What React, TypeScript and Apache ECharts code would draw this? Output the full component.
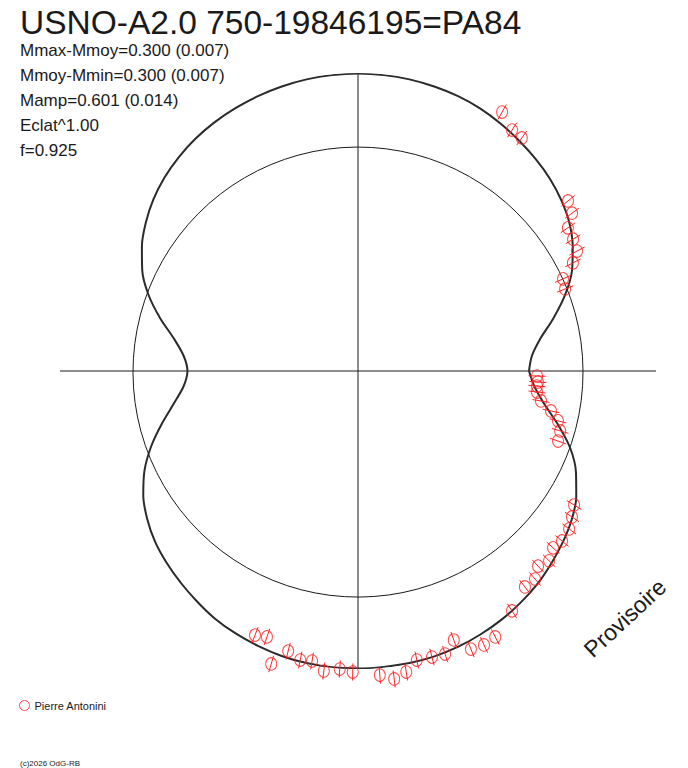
import React, { useEffect, useRef } from "react";
import * as echarts from "echarts";

const titleText = "USNO-A2.0 750-19846195=PA84";
const infoLines = [
  "Mmax-Mmoy=0.300 (0.007)",
  "Mmoy-Mmin=0.300 (0.007)",
  "Mamp=0.601 (0.014)",
  "Eclat^1.00",
  "f=0.925",
];
const observerName = "Pierre Antonini";
const watermark = "Provisoire";
const copyright = "(c)2026 OdG-RB";

// model light curve: phase angle (deg) and relative brightness (1 = mean)
const modelAngles = [
  0, 5, 10, 15, 20, 25, 30, 35, 40, 45, 50, 55, 60, 65, 70, 75, 80, 85, 90,
  95, 100, 105, 110, 115, 120, 125, 130, 135, 140, 145, 150, 155, 160, 165, 170, 175, 180,
  185, 190, 195, 200, 205, 210, 215, 220, 225, 230, 235, 240, 245, 250, 255, 260, 265, 270,
  275, 280, 285, 290, 295, 300, 305, 310, 315, 320, 325, 330, 335, 340, 345, 350, 355, 360,
];
const modelRadius = [
  0.76, 0.776, 0.822, 0.898, 0.978, 1.049, 1.102, 1.147, 1.18, 1.207, 1.229,
  1.249, 1.269, 1.287, 1.3, 1.309, 1.316, 1.32, 1.322,
  1.32, 1.316, 1.309, 1.3, 1.289, 1.276, 1.26, 1.24, 1.216, 1.187, 1.151, 1.109,
  1.058, 0.991, 0.911, 0.831, 0.778, 0.758,
  0.778, 0.831, 0.902, 0.978, 1.047, 1.102, 1.144, 1.178, 1.204, 1.227, 1.249,
  1.271, 1.287, 1.3, 1.311, 1.318, 1.322, 1.322,
  1.32, 1.318, 1.313, 1.304, 1.291, 1.276, 1.258, 1.238, 1.213, 1.187, 1.158,
  1.12, 1.069, 1.004, 0.92, 0.84, 0.787, 0.76,
];

// observations (Pierre Antonini)
const obsAngles = [
  248.7, 251.1, 256.0, 253.5, 258.7, 261.0, 263.5, 266.5, 269.0, 274.1, 276.7,
  279.1, 281.5, 284.5, 287.1, 289.6, 292.1, 294.7, 297.3, 302.7, 307.7, 310.4,
  312.7, 315.2, 317.8, 320.2, 323.2, 325.7, 328.2, 340.7, 343.5, 346.0, 348.3,
  350.7, 353.3, 355.2, 356.5, 358.4, 21.6, 24.2, 26.7, 28.7, 31.5, 34.3, 36.4,
  39.0, 54.9, 57.4, 60.9,
];
const obsRadius = [
  1.26, 1.249, 1.283, 1.358, 1.31, 1.305, 1.342, 1.327, 1.338, 1.355, 1.378,
  1.355, 1.311, 1.313, 1.316, 1.269, 1.334, 1.34, 1.33, 1.267, 1.213, 1.214,
  1.18, 1.197, 1.17, 1.18, 1.172, 1.151, 1.13, 0.942, 0.937, 0.916, 0.876,
  0.824, 0.801, 0.798, 0.801, 0.796, 0.99, 0.999, 1.069, 1.11, 1.121, 1.129,
  1.182, 1.201, 1.266, 1.271, 1.317,
];
const obsErrors = obsRadius.map(() => 0.038);

const meanLevel = 1;
const outerLevel = 1.3244;

const FONT = "'Liberation Sans', Arial, Helvetica, sans-serif";
const RED = "#ff2020";
const INK = "#1a1a1a";

export default function App() {
  const ref = useRef<HTMLDivElement>(null);

  useEffect(() => {
    if (!ref.current) return;
    const chart = echarts.init(ref.current, undefined, { renderer: "svg" });

    const texts: any[] = [
      {
        type: "text",
        x: 20,
        y: 22,
        style: { text: titleText, fontSize: 33.5, fontFamily: FONT, fill: INK, verticalAlign: "middle" },
      },
      ...infoLines.map((t, i) => ({
        type: "text",
        x: 20,
        y: 50 + 25.2 * i,
        style: { text: t, fontSize: 17, fontFamily: FONT, fill: INK, verticalAlign: "middle" },
      })),
      {
        type: "text",
        x: 625,
        y: 618,
        rotation: (43 * Math.PI) / 180,
        style: {
          text: watermark,
          fontSize: 23,
          fontFamily: FONT,
          fill: INK,
          align: "center",
          verticalAlign: "middle",
        },
      },
      {
        type: "text",
        x: 20,
        y: 763,
        style: { text: copyright, fontSize: 8, fontFamily: FONT, fill: INK, verticalAlign: "middle" },
      },
    ];

    chart.setOption({
      animation: false,
      polar: { center: [358, 371], radius: 298 },
      angleAxis: {
        type: "value",
        min: 0,
        max: 360,
        interval: 90,
        startAngle: 0,
        clockwise: false,
        axisLine: { show: false },
        axisTick: { show: false },
        axisLabel: { show: false },
        splitLine: { show: true, lineStyle: { color: INK, width: 1 } },
      },
      radiusAxis: {
        type: "value",
        min: 0,
        max: outerLevel,
        interval: meanLevel,
        axisLine: { show: false },
        axisTick: { show: false },
        axisLabel: { show: false },
        splitLine: {
          show: true,
          lineStyle: { color: ["rgba(0,0,0,0)", INK, "rgba(0,0,0,0)"], width: 1 },
        },
      },
      legend: {
        data: [observerName],
        left: 19,
        top: 700,
        padding: 0,
        itemWidth: 10,
        itemHeight: 10,
        icon: "circle",
        itemStyle: { color: "rgba(0,0,0,0)", borderColor: RED, borderWidth: 1 },
        textStyle: { fontSize: 11, fontFamily: FONT, color: INK },
      },
      series: [
        {
          type: "line",
          coordinateSystem: "polar",
          data: modelAngles.map((a, i) => [modelRadius[i], a]),
          showSymbol: false,
          smooth: 0.3,
          clip: false,
          silent: true,
          lineStyle: { color: "#2b2b2b", width: 2 },
          z: 2,
        },
        {
          type: "custom",
          coordinateSystem: "polar",
          data: obsAngles.map((a, i) => [obsRadius[i], a, obsErrors[i]]),
          encode: { radius: 0, angle: 1 },
          clip: false,
          silent: true,
          z: 3,
          renderItem: (params: any, api: any) => {
            const r = api.value(0) as number;
            const a = api.value(1) as number;
            const e = api.value(2) as number;
            const p1 = api.coord([r - e, a]);
            const p2 = api.coord([r + e, a]);
            return {
              type: "line",
              shape: { x1: p1[0], y1: p1[1], x2: p2[0], y2: p2[1] },
              style: { stroke: RED, lineWidth: 1 },
            };
          },
        },
        {
          type: "scatter",
          name: observerName,
          coordinateSystem: "polar",
          data: obsAngles.map((a, i) => [obsRadius[i], a]),
          symbol: "circle",
          symbolSize: [11, 12.5],
          clip: false,
          silent: true,
          itemStyle: { color: "rgba(0,0,0,0)", borderColor: RED, borderWidth: 1 },
          z: 4,
        },
      ],
      graphic: texts,
    });

    return () => chart.dispose();
  }, []);

  return (
    <div
      ref={ref}
      style={{ position: "fixed", left: 0, top: 0, width: 688, height: 768, background: "#fff" }}
    />
  );
}
